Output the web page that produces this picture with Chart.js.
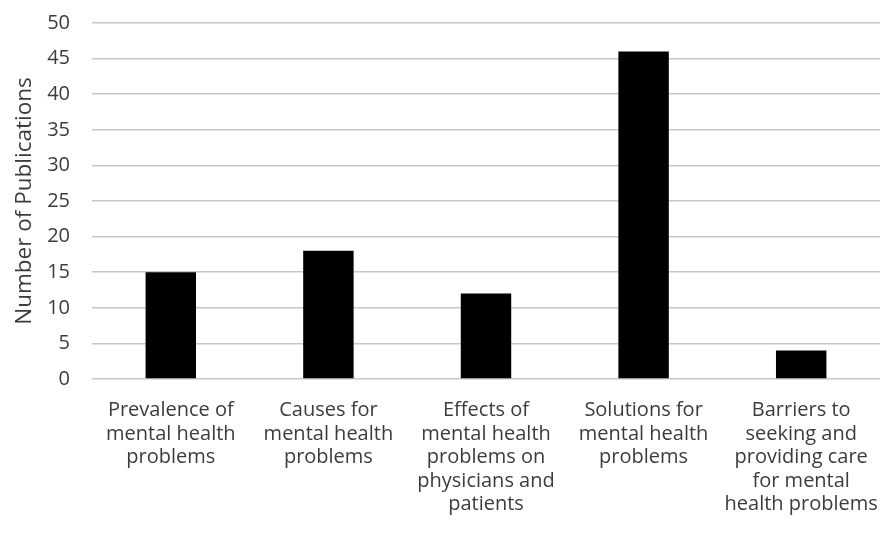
<!DOCTYPE html>
<html>
<head>
<meta charset="utf-8">
<script src="https://cdn.jsdelivr.net/npm/chart.js@4.4.1/dist/chart.umd.min.js"></script>
<style>
  html, body { margin: 0; padding: 0; background: #ffffff; }
  #wrap { width: 885px; height: 534px; position: relative; }
</style>
</head>
<body>
<div id="wrap"><canvas id="chart"></canvas></div>
<script>
// Publication topics (each label split into its display lines)
const categories = [
  ['Prevalence of', 'mental health', 'problems'],
  ['Causes for', 'mental health', 'problems'],
  ['Effects of', 'mental health', 'problems on', 'physicians and', 'patients'],
  ['Solutions for', 'mental health', 'problems'],
  ['Barriers to', 'seeking and', 'providing care', 'for mental', 'health problems']
];
const publications = [15, 18, 12, 46, 4];
const yTicks = [0, 5, 10, 15, 20, 25, 30, 35, 40, 45, 50];
const yTitle = 'Number of Publications';

const textColor = '#3c3c3c';
const fontFamily = '"Open Sans", Lato, "Liberation Sans", sans-serif';

new Chart(document.getElementById('chart'), {
  type: 'bar',
  data: {
    labels: categories,
    datasets: [{
      data: publications,
      backgroundColor: '#000000',
      borderWidth: 0,
      barPercentage: 1,
      categoryPercentage: 0.32
    }]
  },
  options: {
    responsive: true,
    maintainAspectRatio: false,
    animation: false,
    layout: { padding: { top: 23, right: 5, left: 0, bottom: 0 } },
    plugins: {
      legend: { display: false },
      tooltip: { enabled: false }
    },
    scales: {
      x: {
        grid: { display: false, drawTicks: false },
        border: { display: false },
        ticks: {
          color: textColor,
          font: { family: fontFamily, size: 20, lineHeight: 1.175 },
          padding: 20,
          maxRotation: 0,
          autoSkip: false
        },
        afterFit(scale) {
          scale.height = 155;
          scale.paddingTop = 0;
          scale.paddingLeft = 0;
          scale.paddingRight = 0;
        }
      },
      y: {
        min: 0,
        max: 50,
        afterBuildTicks(scale) { scale.ticks = yTicks.map(v => ({ value: v })); },
        grid: { color: '#c8c8c8', lineWidth: 1.5, drawTicks: false },
        border: { display: false },
        ticks: {
          color: textColor,
          font: { family: fontFamily, size: 20 },
          padding: 22
        },
        title: {
          display: true,
          text: yTitle,
          color: textColor,
          font: { family: fontFamily, size: 22.5 },
          padding: { top: 11, bottom: 0 }
        },
        afterFit(scale) {
          scale.width = 92;
          scale.paddingTop = 0;
          scale.paddingBottom = 0;
        }
      }
    }
  }
});
</script>
</body>
</html>
